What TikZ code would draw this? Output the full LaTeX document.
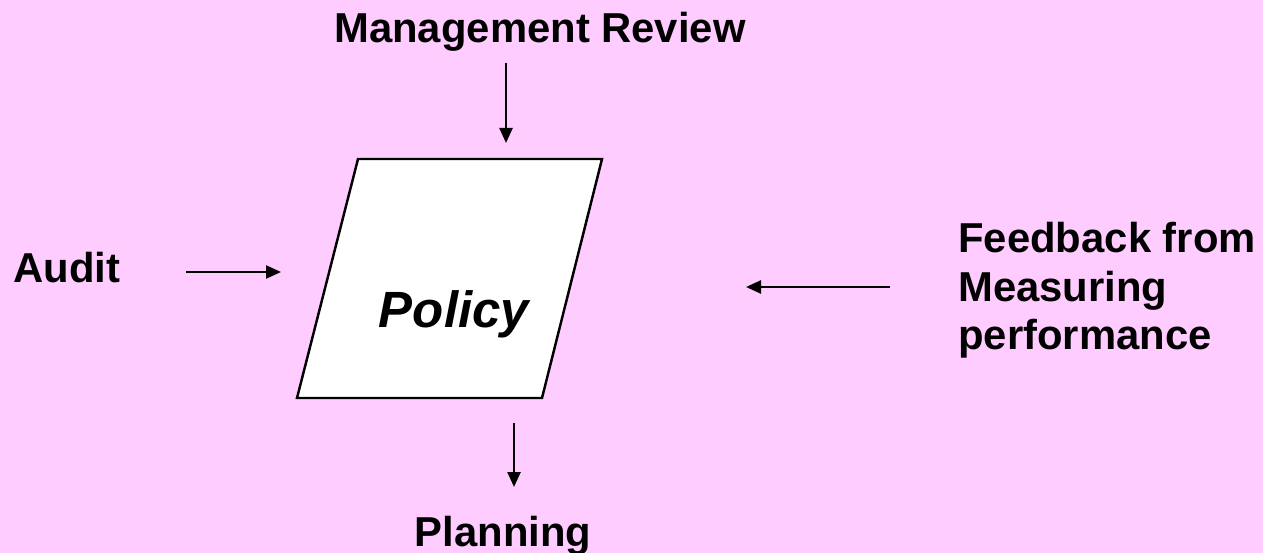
\documentclass[tikz,border=0pt]{standalone}
\usepackage{fontspec}
\setmainfont{Liberation Sans}
\usetikzlibrary{arrows.meta}
\definecolor{bgpink}{RGB}{255,204,255}
\begin{document}
\begin{tikzpicture}[x=0.02cm,y=-0.02cm,
    lbl/.style={inner sep=0pt,font=\fontsize{23.8}{27.6}\selectfont\bfseries},
    arr/.style={line width=1.4pt,-{Triangle[length=0.3cm,width=0.26cm]}}]
  \fill [bgpink] (0,0) rectangle (1263,553);
  \useasboundingbox (0,0) rectangle (1263,553);
  % the policy box
  \draw [fill=white,line width=1.4pt] (358,159) -- (602,159) -- (542,398) -- (297,398) -- cycle;
  \node (pol) [inner sep=0pt,anchor=base,font=\fontsize{29}{34}\selectfont\bfseries\itshape] at (454,328) {Policy};
  \node (mr) [lbl,anchor=base] at (540,43) {Management Review};
  \node (au) [lbl,anchor=base west] at (13,283) {Audit};
  \node (pl) [lbl,anchor=base] at (503,546) {Planning};
  \node (fb) [lbl,anchor=north west,align=left] at (958,222) {Feedback from\\Measuring\\performance};
  \coordinate (mr1) at (506,63);
  \coordinate (mr2) at (506,143);
  \coordinate (au1) at (186,272);
  \coordinate (au2) at (281,272);
  \coordinate (fb1) at (890,287);
  \coordinate (fb2) at (746,287);
  \coordinate (pl1) at (514,423);
  \coordinate (pl2) at (514,487);
  \draw [arr] (mr1) -- (mr2);
  \draw [arr] (au1) -- (au2);
  \draw [arr] (fb1) -- (fb2);
  \draw [arr] (pl1) -- (pl2);
\end{tikzpicture}
\end{document}
